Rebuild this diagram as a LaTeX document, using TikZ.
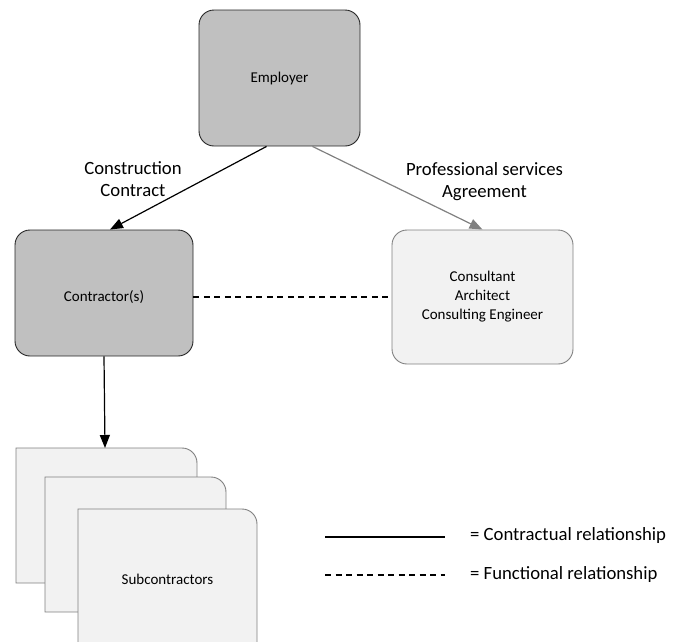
\documentclass[tikz,border=0pt]{standalone}
\usepackage{fontspec}
\setmainfont{Carlito}
\usetikzlibrary{arrows.meta}
\definecolor{darkfill}{HTML}{C0C0C0}
\definecolor{lightfill}{HTML}{F2F2F2}
\definecolor{edgegrey}{HTML}{808080}
\tikzset{
  darkbox/.style={draw=black!85, fill=darkfill, rounded corners=15pt, line width=0.9pt, inner sep=0pt},
  lightbox/.style={draw=edgegrey, fill=lightfill, rounded corners=15pt, line width=0.9pt, inner sep=0pt},
  boxtext/.style={font=\fontsize{15}{19}\selectfont, align=center},
  labeltext/.style={font=\fontsize{18.7}{22.5}\selectfont},
  contract/.style={line width=1.2pt, -{Triangle[length=13pt,width=10pt]}},
  profarrow/.style={draw=edgegrey, line width=1.2pt, -{Triangle[length=13pt,width=10pt]}, edgegrey},
  functional/.style={line width=1.2pt, dash pattern=on 6pt off 4.5pt},
  subbox/.style={draw=edgegrey, fill=lightfill, line width=0.9pt},
}
\begin{document}
\begin{tikzpicture}[x=1pt,y=-1pt]
\useasboundingbox (0,0) rectangle (673,641);
\clip (0,0) rectangle (673,641);
% main boxes
\node[darkbox, minimum width=161pt, minimum height=136pt] (emp) at (279.5,78) {};
\node[boxtext] (empt) at (emp.center) {Employer};
\node[darkbox, minimum width=178pt, minimum height=126pt] (con) at (104,293) {};
\node[boxtext] (cont) at ([yshift=-4pt]con.center) {Contractor(s)};
\node[lightbox, minimum width=181pt, minimum height=134pt] (cst) at (482.5,297) {};
\node[boxtext] (cstt) at (cst.center) {Consultant\\Architect\\Consulting Engineer};
% subcontractor stack
\coordinate (s1nw) at (16,448); \coordinate (s1se) at (197,583);
\coordinate (s2nw) at (45,477); \coordinate (s2se) at (226,612);
\coordinate (s3nw) at (78,509); \coordinate (s3se) at (257,660);
\foreach \n in {1,2,3}{
  \draw[subbox] (s\n nw |- s\n se) -- (s\n nw) -- ([xshift=-15pt]s\n se |- s\n nw) arc[start angle=90,end angle=0,radius=15pt] -- (s\n se) -- cycle;
}
\node[boxtext] (subt) at (167.5,579) {Subcontractors};
\coordinate (s1top) at (105,448);
% connectors
\draw[contract] ([xshift=-13pt]emp.south) -- ([xshift=6pt]con.north);
\draw[profarrow] ([xshift=33pt]emp.south) -- (cst.north);
\draw[contract] (con.south) -- (s1top);
\draw[functional] ([yshift=-4pt]con.east) -- (cst.west);
% labels
\node[labeltext, anchor=north, align=center, inner sep=0pt] (lab1) at (133,161) {Construction\\Contract};
\node[labeltext, anchor=north, align=center, inner sep=0pt] (lab2) at (484.5,162) {Professional services\\Agreement};
% legend
\coordinate (l1a) at (325,537); \coordinate (l1b) at (445,537);
\coordinate (l2a) at (325,575); \coordinate (l2b) at (445,575);
\draw[line width=1.2pt] (l1a) -- (l1b);
\draw[functional] (l2a) -- (l2b);
\node[labeltext, anchor=west, inner sep=0pt] (leg1) at (470,536) {= Contractual relationship};
\node[labeltext, anchor=west, inner sep=0pt] (leg2) at (470,575) {= Functional relationship};
\end{tikzpicture}
\end{document}
